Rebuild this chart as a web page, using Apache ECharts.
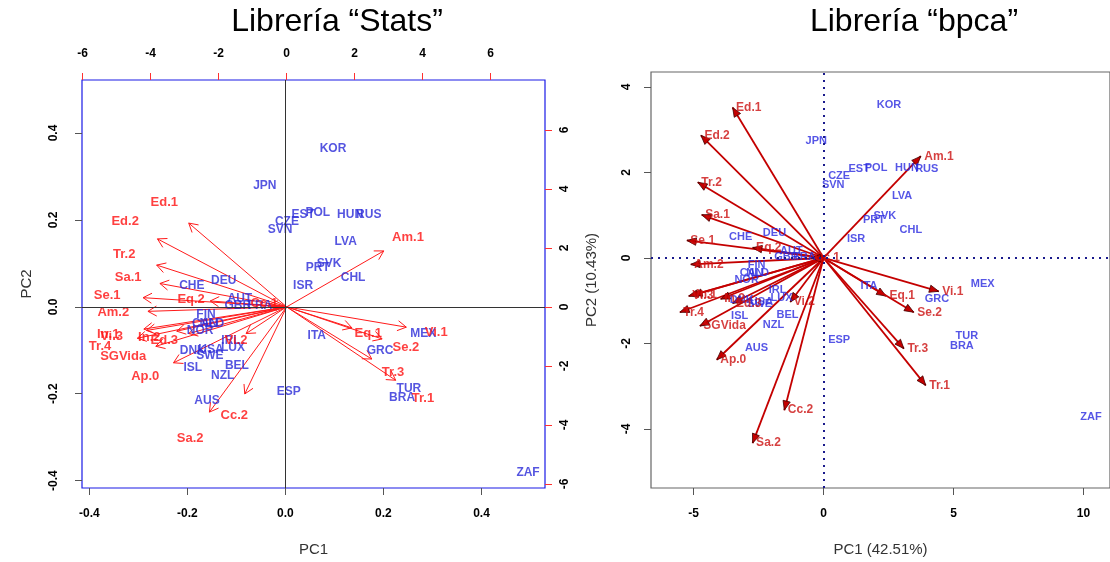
<!DOCTYPE html>
<html><head><meta charset="utf-8">
<script src="https://cdn.jsdelivr.net/npm/echarts@6/dist/echarts.min.js"></script>
<style>html,body{margin:0;padding:0;background:#fff}#c{width:1110px;height:562px}</style>
</head><body><div id="c"></div>
<script>
// ---------- data ----------
const countries = ['KOR','JPN','EST','POL','CZE','SVN','HUN','RUS','LVA','SVK','PRT','CHL','ISR','ITA','MEX','GRC','TUR','BRA','ZAF','ESP','AUS','NZL','BEL','ISL','LUX','IRL','DNK','SWE','USA','NOR','CAN','NLD','FIN','CHE','DEU','AUT','GBR','FRA'];
const statsPC1 = [0.097,-0.042,0.036,0.066,0.003,-0.011,0.132,0.170,0.123,0.089,0.066,0.138,0.036,0.064,0.281,0.193,0.252,0.238,0.495,0.007,-0.160,-0.128,-0.099,-0.189,-0.107,-0.111,-0.189,-0.154,-0.152,-0.174,-0.164,-0.150,-0.162,-0.191,-0.126,-0.093,-0.097,-0.052];
const statsPC2 = [0.365,0.278,0.211,0.216,0.195,0.177,0.211,0.211,0.150,0.099,0.090,0.067,0.049,-0.067,-0.063,-0.102,-0.189,-0.209,-0.381,-0.195,-0.216,-0.159,-0.136,-0.141,-0.095,-0.079,-0.102,-0.113,-0.099,-0.054,-0.038,-0.038,-0.019,0.049,0.061,0.019,0.003,0.003];
const bpcaPC1 = [2.52,-0.28,1.37,2.02,0.60,0.37,3.21,3.97,3.02,2.36,1.94,3.36,1.25,1.75,6.12,4.36,5.51,5.32,10.29,0.60,-2.58,-1.93,-1.39,-3.23,-1.62,-1.77,-3.15,-2.46,-2.39,-2.96,-2.77,-2.54,-2.58,-3.19,-1.89,-1.24,-1.43,-0.74];
const bpcaPC2 = [3.58,2.73,2.08,2.10,1.91,1.71,2.10,2.08,1.45,0.99,0.89,0.66,0.45,-0.66,-0.61,-0.96,-1.82,-2.05,-3.72,-1.91,-2.10,-1.57,-1.33,-1.36,-0.94,-0.75,-0.99,-1.08,-1.04,-0.52,-0.36,-0.36,-0.17,0.50,0.59,0.17,0.03,0.03];

const variables = ['Ed.1','Ed.2','Tr.2','Sa.1','Se.1','Am.2','Eq.2','In.1','Vi.3','Tr.4','SGVida','Ap.0','In.2','Ed.3','Vi.2','Cc.2','Sa.2','Cc.1','Am.1','Eq.1','Vi.1','Se.2','Tr.3','Tr.1'];
// "Stats" biplot: variable label positions (top/right axes); arrows drawn to 0.8 of them, as R's biplot does
const statsLoad1 = [-3.60,-4.75,-4.78,-4.66,-5.28,-5.10,-2.81,-5.25,-5.15,-5.49,-4.81,-4.16,-4.04,-3.60,-1.49,-1.54,-2.84,-0.66,3.57,2.40,4.40,3.51,3.13,4.01];
const statsLoad2 = [3.55,2.88,1.77,0.99,0.39,-0.19,0.25,-0.94,-1.00,-1.33,-1.67,-2.37,-1.03,-1.13,-1.13,-3.69,-4.46,0.10,2.37,-0.89,-0.86,-1.36,-2.21,-3.11];
// "bpca" biplot: arrow tips
const bpcaLoad1 = [-3.50,-4.72,-4.84,-4.69,-5.26,-5.11,-2.73,-5.03,-5.19,-5.53,-4.76,-4.11,-3.96,-3.50,-1.28,-1.51,-2.73,-0.48,3.74,2.40,4.43,3.47,3.09,3.93];
const bpcaLoad2 = [3.52,2.87,1.77,1.01,0.41,-0.15,0.24,-0.87,-0.89,-1.27,-1.59,-2.38,-0.96,-1.06,-1.03,-3.56,-4.33,0.00,2.38,-0.89,-0.78,-1.27,-2.12,-2.98];

const statsTicksPC = [-0.4,-0.2,0,0.2,0.4];
const statsTicksLoad = [-6,-4,-2,0,2,4,6];
const bpcaTicksX = [-5,0,5,10];
const bpcaTicksY = [-4,-2,0,2,4];

// ---------- chart ----------
const FONT = 'Liberation Sans, Arial, sans-serif';
const chart = echarts.init(document.getElementById('c'), null, {renderer:'canvas'});

function arrowOpen(params, api){
  const o = api.coord([0,0]);
  const t = api.coord([api.value(0), api.value(1)]);
  const ang = Math.atan2(t[1]-o[1], t[0]-o[0]);
  const L = 10, a = Math.PI/6;
  const p1 = [t[0]-L*Math.cos(ang-a), t[1]-L*Math.sin(ang-a)];
  const p2 = [t[0]-L*Math.cos(ang+a), t[1]-L*Math.sin(ang+a)];
  return {type:'group', children:[
    {type:'line', shape:{x1:o[0],y1:o[1],x2:t[0],y2:t[1]}, style:{stroke:'#ff1a1a', lineWidth:1}},
    {type:'polyline', shape:{points:[p1,t,p2]}, style:{stroke:'#ff1a1a', lineWidth:1, fill:null}}
  ]};
}
function arrowFilled(params, api){
  const o = api.coord([0,0]);
  const t = api.coord([api.value(0), api.value(1)]);
  const ang = Math.atan2(t[1]-o[1], t[0]-o[0]);
  const L = 10, a = 0.38;
  const p1 = [t[0]-L*Math.cos(ang-a), t[1]-L*Math.sin(ang-a)];
  const p2 = [t[0]-L*Math.cos(ang+a), t[1]-L*Math.sin(ang+a)];
  return {type:'group', children:[
    {type:'line', shape:{x1:o[0],y1:o[1],x2:t[0],y2:t[1]}, style:{stroke:'#c40000', lineWidth:1.8}},
    {type:'polygon', shape:{points:[t,p1,p2]}, style:{fill:'#c40000', stroke:'#400000', lineWidth:0.8}}
  ]};
}

const tickLbl = {fontWeight:'bold', fontSize:12, color:'#000', fontFamily:FONT};
const statsFmt = v => v.toFixed(1);
const noLine = {show:false, onZero:false};

const option = {
  animation:false,
  backgroundColor:'#fff',
  graphic:[
    {type:'text', x:337, y:22, style:{text:'Librería “Stats”', fontSize:32, fontFamily:FONT, fill:'#000', align:'center', verticalAlign:'middle'}},
    {type:'text', x:914, y:22, style:{text:'Librería “bpca”', fontSize:32, fontFamily:FONT, fill:'#000', align:'center', verticalAlign:'middle'}}
  ],
  grid:[
    {left:82, top:80, width:463, height:411, show:true, borderColor:'#1a1ae6', borderWidth:1.2, backgroundColor:'transparent'},
    {left:651, top:72, width:462, height:420, show:true, borderColor:'#666', borderWidth:1.2, backgroundColor:'transparent'}
  ],
  xAxis:[
    {gridIndex:0, type:'value', position:'bottom', min:-0.415, max:0.5296,
     name:'PC1', nameLocation:'middle', nameGap:54, nameTextStyle:{fontSize:15, color:'#333', fontFamily:FONT},
     axisLine:noLine, splitLine:{show:false},
     axisTick:{show:true, length:7, customValues:statsTicksPC, lineStyle:{color:'#555'}},
     axisLabel:Object.assign({customValues:statsTicksPC, formatter:statsFmt, margin:20}, tickLbl)},
    {gridIndex:0, type:'value', position:'top', min:-6.02, max:7.6,
     axisLine:noLine, splitLine:{show:false},
     axisTick:{show:true, length:7, customValues:statsTicksLoad, lineStyle:{color:'#ff3030'}},
     axisLabel:Object.assign({customValues:statsTicksLoad, margin:20}, tickLbl)},
    {gridIndex:1, type:'value', position:'bottom', min:-6.64, max:11.02,
     name:'PC1 (42.51%)', nameLocation:'middle', nameGap:54, nameTextStyle:{fontSize:15, color:'#333', fontFamily:FONT},
     axisLine:noLine, splitLine:{show:false},
     axisTick:{show:true, length:7, customValues:bpcaTicksX, lineStyle:{color:'#555'}},
     axisLabel:Object.assign({customValues:bpcaTicksX, margin:20}, tickLbl)}
  ],
  yAxis:[
    {gridIndex:0, type:'value', position:'left', min:-0.417, max:0.522,
     name:'PC2', nameLocation:'middle', nameGap:48, nameRotate:90, nameTextStyle:{fontSize:15, color:'#333', fontFamily:FONT},
     axisLine:noLine, splitLine:{show:false},
     axisTick:{show:true, length:7, customValues:statsTicksPC, lineStyle:{color:'#555'}},
     axisLabel:Object.assign({customValues:statsTicksPC, formatter:statsFmt, rotate:90, margin:22}, tickLbl)},
    {gridIndex:0, type:'value', position:'right', min:-6.14, max:7.69,
     axisLine:noLine, splitLine:{show:false},
     axisTick:{show:true, length:7, customValues:statsTicksLoad, lineStyle:{color:'#ff3030'}},
     axisLabel:Object.assign({customValues:statsTicksLoad, rotate:90, margin:14}, tickLbl)},
    {gridIndex:1, type:'value', position:'left', min:-5.38, max:4.35,
     name:'PC2 (10.43%)', nameLocation:'middle', nameGap:52, nameRotate:90, nameTextStyle:{fontSize:15, color:'#333', fontFamily:FONT},
     axisLine:noLine, splitLine:{show:false},
     axisTick:{show:true, length:7, customValues:bpcaTicksY, lineStyle:{color:'#555'}},
     axisLabel:Object.assign({customValues:bpcaTicksY, rotate:90, margin:18}, tickLbl)}
  ],
  series:[
    {type:'scatter', xAxisIndex:0, yAxisIndex:0, symbolSize:1, silent:true, itemStyle:{color:'rgba(0,0,0,0)'},
     data: countries.map((c,i)=>({name:c, value:[statsPC1[i], statsPC2[i]]})),
     label:{show:true, position:'inside', formatter:'{b}', color:'#2a2ad8', fontWeight:'bold', fontSize:12, fontFamily:FONT},
     markLine:{silent:true, symbol:'none', label:{show:false}, lineStyle:{color:'#333', type:'solid', width:1},
       data:[{xAxis:0},{yAxis:0}]}},
    {type:'custom', xAxisIndex:1, yAxisIndex:1, silent:true, renderItem:arrowOpen,
     data: statsLoad1.map((v,i)=>[0.8*v, 0.8*statsLoad2[i]])},
    {type:'scatter', xAxisIndex:1, yAxisIndex:1, symbolSize:1, silent:true, itemStyle:{color:'rgba(0,0,0,0)'},
     data: variables.map((n,i)=>({name:n, value:[statsLoad1[i], statsLoad2[i]]})),
     label:{show:true, position:'inside', formatter:'{b}', color:'#ff1010', fontWeight:'bold', fontSize:13, fontFamily:FONT}},
    {type:'scatter', xAxisIndex:2, yAxisIndex:2, symbolSize:1, silent:true, itemStyle:{color:'rgba(0,0,0,0)'},
     data: countries.map((c,i)=>({name:c, value:[bpcaPC1[i], bpcaPC2[i]]})),
     label:{show:true, position:'inside', formatter:'{b}', color:'#2a2ae0', fontWeight:'bold', fontSize:11, fontFamily:FONT},
     markLine:{silent:true, symbol:'none', label:{show:false}, lineStyle:{color:'#1a1a8c', type:[2,5], width:2},
       data:[{xAxis:0},{yAxis:0}]}},
    {type:'custom', xAxisIndex:2, yAxisIndex:2, silent:true, renderItem:arrowFilled,
     data: bpcaLoad1.map((v,i)=>[v, bpcaLoad2[i]])},
    {type:'scatter', xAxisIndex:2, yAxisIndex:2, symbolSize:1, silent:true, itemStyle:{color:'rgba(0,0,0,0)'},
     data: variables.map((n,i)=>({name:n, value:[bpcaLoad1[i], bpcaLoad2[i]]})),
     label:{show:true, position:'right', distance:3, formatter:'{b}', color:'#cc1010', fontWeight:'bold', fontSize:12, fontFamily:FONT}}
  ]
};
chart.setOption(option);
</script>
</body></html>
